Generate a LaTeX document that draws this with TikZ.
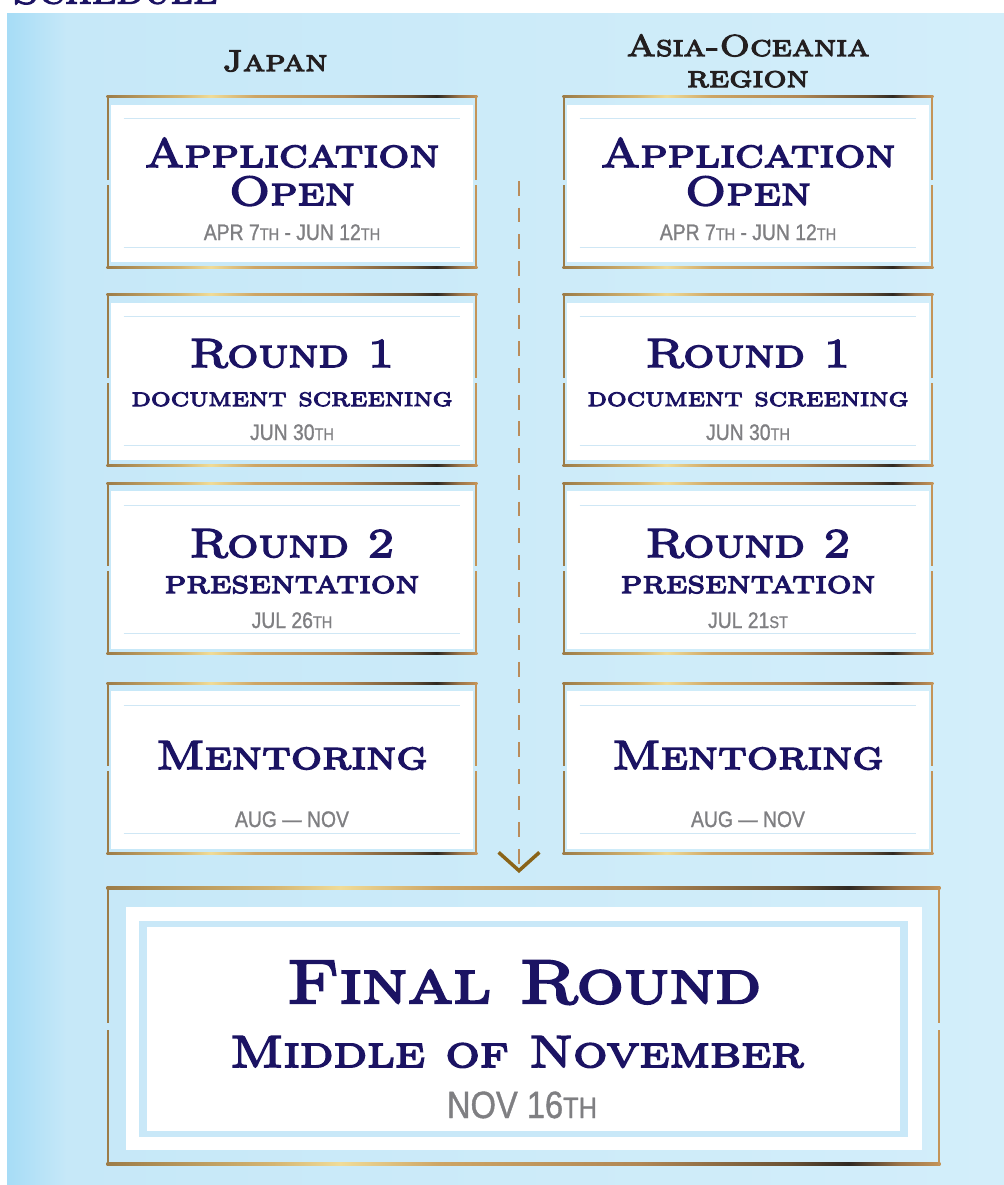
\documentclass[tikz,border=0pt]{standalone}
\usepackage{fontspec}
\newfontfamily\capsfont{lmromancaps10-regular.otf}[FakeStretch=1.2,FakeBold=3.8]
\newfontfamily\datefont{Liberation Sans}[FakeStretch=0.86,FakeBold=1]
\usetikzlibrary{arrows.meta}
\definecolor{navyText}{HTML}{1B1363}
\definecolor{headText}{HTML}{231F20}
\definecolor{dateText}{HTML}{7F7F82}
\definecolor{bgLeft}{HTML}{A6DCF6}
\definecolor{bgMid}{HTML}{C6E8F8}
\definecolor{bgRight}{HTML}{D3EEFA}
\definecolor{ruleBlue}{HTML}{CFE7F5}
\definecolor{bandBlue}{HTML}{C9E8F8}
\definecolor{dashGold}{HTML}{B98C5C}
\definecolor{tipBrown}{HTML}{8A6419}
\definecolor{goldA}{HTML}{9C7C48}
\definecolor{goldB}{HTML}{D4B572}
\definecolor{goldC}{HTML}{F0DC98}
\definecolor{goldD}{HTML}{CDA565}
\definecolor{goldE}{HTML}{B08755}
\definecolor{goldF}{HTML}{6A5234}
\definecolor{goldG}{HTML}{2E2822}
\definecolor{goldH}{HTML}{9A7348}
\definecolor{goldEnd}{HTML}{C49458}
\pgfdeclarehorizontalshading{goldshade}{100bp}{color(0bp)=(goldA); color(25bp)=(goldA); color(35bp)=(goldB); color(39bp)=(goldC); color(45bp)=(goldD); color(57bp)=(goldE); color(66bp)=(goldF); color(69.5bp)=(goldG); color(72.5bp)=(goldH); color(75bp)=(goldEnd); color(100bp)=(goldEnd)}
\pgfdeclarehorizontalshading{bgshade}{100bp}{color(0bp)=(bgLeft); color(25bp)=(bgLeft); color(28bp)=(bgMid); color(75bp)=(bgRight); color(100bp)=(bgRight)}
\tikzset{
ttl/.style={font=\capsfont\fontsize{29}{29}\selectfont, text=navyText, inner sep=0pt, anchor=base},
bigttl/.style={font=\capsfont\fontsize{44}{44}\selectfont, text=navyText, inner sep=0pt, anchor=base},
midttl/.style={font=\capsfont\fontsize{32}{32}\selectfont, text=navyText, inner sep=0pt, anchor=base},
subttl/.style={font=\capsfont\fontsize{18.5}{18.5}\selectfont, text=navyText, inner sep=0pt, anchor=base},
datestyle/.style={font=\datefont\fontsize{16}{16}\selectfont, text=dateText, inner sep=0pt, anchor=base},
bigdate/.style={font=\datefont\fontsize{27}{27}\selectfont, text=dateText, inner sep=0pt, anchor=base},
head/.style={font=\capsfont\fontsize{21.5}{21.5}\selectfont, text=headText, inner sep=0pt, anchor=base},
stagebox/.style={rectangle, inner sep=0pt, minimum width=9.25cm, minimum height=4.3cm},
finalbox/.style={rectangle, inner sep=0pt, minimum width=20.825cm, minimum height=6.95cm},
dashline/.style={draw=dashGold, line width=1.4pt, dash pattern=on 10.5pt off 8.5pt,
  -{Straight Barb[length=13pt, width=29pt, line width=2.5pt, color=tipBrown]}}
}
\newcommand{\sm}[2][12]{{\fontsize{#1}{#1}\selectfont #2}}
\newcommand{\goldframe}[3]{
  \shade[shading=goldshade] (#1.north west) rectangle ([shift={(0,#2)}]#1.north east);
  \shade[shading=goldshade] ([shift={(0,-#2)}]#1.south west) rectangle (#1.south east);
  \fill[goldA] (#1.north west) rectangle ([shift={(#2,-#3)}]#1.west);
  \fill[goldA] ([shift={(0,#3)}]#1.west) rectangle ([shift={(#2,0)}]#1.south west);
  \fill[goldEnd] (#1.north east) rectangle ([shift={(-#2,-#3)}]#1.east);
  \fill[goldEnd] ([shift={(0,#3)}]#1.east) rectangle ([shift={(-#2,0)}]#1.south east);
}
\newcommand{\stageframe}[1]{
  \goldframe{#1}{2}{2.5}
  \fill[white] ([shift={(4,9)}]#1.north west) rectangle ([shift={(-4,-6)}]#1.south east);
  \draw[ruleBlue, line width=0.8pt] ([shift={(17,23)}]#1.north west) -- ([shift={(-17,23)}]#1.north east);
  \draw[ruleBlue, line width=0.8pt] ([shift={(17,-21)}]#1.south west) -- ([shift={(-17,-21)}]#1.south east);
}
\begin{document}
\begin{tikzpicture}[x=0.025cm, y=-0.025cm]
\useasboundingbox (0,0) rectangle (1004,1185);
\shade[shading=bgshade] (7,13) rectangle (1004,1185);
\node[head, text=navyText, font=\capsfont\fontsize{26}{26}\selectfont] (sched) at (115,3.5) {Schedule};

\node[head] (jphead) at (275,71) {Japan};
\node[head] (aohead) at (748,56) {Asia-Oceania};
\node[head] (aohead2) at (748,87) {region};

\foreach \col/\cx/\rdate in {jp/292/{26\sm{TH}}, ao/748/{21\sm{ST}}} {
  \node[stagebox] (\col1) at (\cx,182) {};
  \node[stagebox] (\col2) at (\cx,380) {};
  \node[stagebox] (\col3) at (\cx,568.5) {};
  \node[stagebox] (\col4) at (\cx,768.5) {};
  \stageframe{\col1}
  \stageframe{\col2}
  \stageframe{\col3}
  \stageframe{\col4}
  \node[ttl] (\col1a) at (\cx,167) {Application};
  \node[ttl] (\col1b) at (\cx,205) {Open};
  \node[datestyle] (\col1c) at (\cx,240) {APR 7\sm{TH} - JUN 12\sm{TH}};
  \node[ttl] (\col2a) at (\cx,367) {Round 1};
  \node[subttl] (\col2b) at (\cx,406) {document screening};
  \node[datestyle] (\col2c) at (\cx,440) {JUN 30\sm{TH}};
  \node[ttl] (\col3a) at (\cx,557) {Round 2};
  \node[subttl, font=\capsfont\fontsize{23}{23}\selectfont] (\col3b) at (\cx,593) {presentation};
  \node[datestyle] (\col3c) at (\cx,628) {JUL \rdate};
  \node[ttl] (\col4a) at (\cx,769) {Mentoring};
  \node[datestyle] (\col4c) at (\cx,827) {AUG — NOV};
}

\coordinate (dashtop) at (519,181);
\coordinate (dashend) at (519,873);
\draw[dashline] (dashtop) -- (dashend);

\node[finalbox] (final) at (523.5,1026) {};
\goldframe{final}{2.7}{3.5}
\fill[white] (126,907) rectangle (922,1150);
\fill[bandBlue] (139,921) rectangle (908,1137);
\fill[white] (147,927) rectangle (900,1131);
\node[bigttl] (finala) at (524,1003) {Final Round};
\node[midttl] (finalb) at (517,1067) {Middle of November};
\node[bigdate] (finalc) at (522,1118) {NOV 16\sm[21]{TH}};
\end{tikzpicture}
\end{document}
